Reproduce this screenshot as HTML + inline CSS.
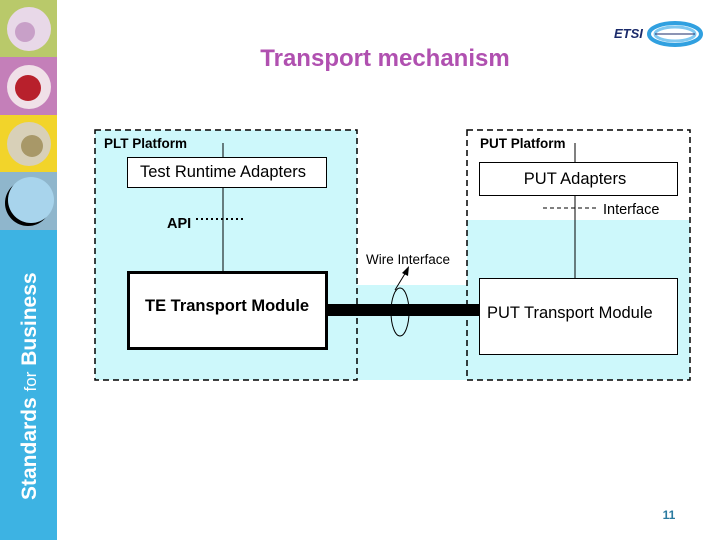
<!DOCTYPE html>
<html><head><meta charset="utf-8"><style>
html,body{margin:0;padding:0;background:#fff;}
svg{display:block;font-family:"Liberation Sans",sans-serif;}
</style></head><body>
<svg width="720" height="540" viewBox="0 0 720 540" xmlns="http://www.w3.org/2000/svg">
<rect x="0" y="0" width="57" height="57" fill="#b9c96a"/>
<rect x="0" y="57" width="57" height="58" fill="#c47fb9"/>
<rect x="0" y="115" width="57" height="57" fill="#f2d42a"/>
<rect x="0" y="172" width="57" height="58" fill="#8fb6cc"/>
<rect x="0" y="230" width="57" height="310" fill="#3db3e3"/>
<circle cx="29" cy="29" r="22" fill="#e8d8e8"/><circle cx="25" cy="32" r="10" fill="#c8a0c8"/>
<circle cx="29" cy="87" r="22" fill="#f0e0e8"/><circle cx="28" cy="88" r="13" fill="#b8202c"/>
<circle cx="29" cy="144" r="22" fill="#d8d0b8"/><circle cx="32" cy="146" r="11" fill="#a89868"/>
<circle cx="28" cy="203" r="23" fill="#000"/><circle cx="31" cy="200" r="23" fill="#a8d4ec"/>
<text transform="translate(36,500) rotate(-90)" fill="#fff" font-size="21" font-weight="bold">Standards <tspan font-weight="normal" font-size="17">for</tspan> Business</text>
<text x="385" y="66" text-anchor="middle" fill="#b050b0" font-size="24" font-weight="bold">Transport mechanism</text>
<text x="614" y="38" font-size="13" font-weight="bold" font-style="italic" fill="#1a2a6a">ETSI</text>
<ellipse cx="675" cy="34" rx="26" ry="11" fill="none" stroke="#30a0e0" stroke-width="4"/>
<ellipse cx="675" cy="34" rx="20" ry="7" fill="none" stroke="#80c8f0" stroke-width="3"/>
<line x1="655" y1="34" x2="695" y2="34" stroke="#1a2a6a" stroke-width="1"/>
<rect x="95" y="130" width="262" height="250" fill="#cdf8fb"/>
<rect x="357" y="285" width="110" height="95" fill="#cdf8fb"/>
<rect x="467" y="220" width="223" height="160" fill="#cdf8fb"/>
<rect x="95" y="130" width="262" height="250" fill="none" stroke="#000" stroke-width="1.5" stroke-dasharray="6,4"/>
<rect x="467" y="130" width="223" height="250" fill="none" stroke="#000" stroke-width="1.5" stroke-dasharray="6,4"/>
<text x="104" y="148" font-size="13.5" font-weight="bold">PLT Platform</text>
<text x="480" y="148" font-size="13.5" font-weight="bold">PUT Platform</text>
<line x1="223" y1="143" x2="223" y2="271" stroke="#000"/>
<line x1="575" y1="143" x2="575" y2="278" stroke="#000"/>
<rect x="127.5" y="157.5" width="199" height="30" fill="#fff" stroke="#000"/>
<text x="223" y="177" text-anchor="middle" font-size="16.5">Test Runtime Adapters</text>
<rect x="479.5" y="162.5" width="198" height="33" fill="#fff" stroke="#000"/>
<text x="575" y="184" text-anchor="middle" font-size="16.5">PUT Adapters</text>
<rect x="128.5" y="272.5" width="198" height="76" fill="#fff" stroke="#000" stroke-width="3"/>
<text x="145" y="311" font-size="16.5" font-weight="bold">TE Transport Module</text>
<rect x="479.5" y="278.5" width="198" height="76" fill="#fff" stroke="#000"/>
<text x="487" y="318" font-size="16.5">PUT Transport Module</text>
<rect x="327" y="304" width="152" height="12" fill="#000"/>
<ellipse cx="400" cy="312" rx="9" ry="24" fill="none" stroke="#000"/>
<line x1="395" y1="290" x2="406" y2="272" stroke="#000"/>
<polygon points="409,266 402,273 408,276" fill="#000"/>
<text x="366" y="264" font-size="13.5">Wire Interface</text>
<text x="167" y="228" font-size="14.5" font-weight="bold">API</text>
<line x1="196" y1="219" x2="246" y2="219" stroke="#000" stroke-width="2" stroke-dasharray="2,3"/>
<line x1="543" y1="208" x2="598" y2="208" stroke="#000" stroke-dasharray="4,3"/>
<text x="603" y="214" font-size="14.5">Interface</text>
<text x="669" y="519" text-anchor="middle" font-size="12" font-weight="bold" fill="#2a7aa0">11</text>
</svg>
</body></html>
